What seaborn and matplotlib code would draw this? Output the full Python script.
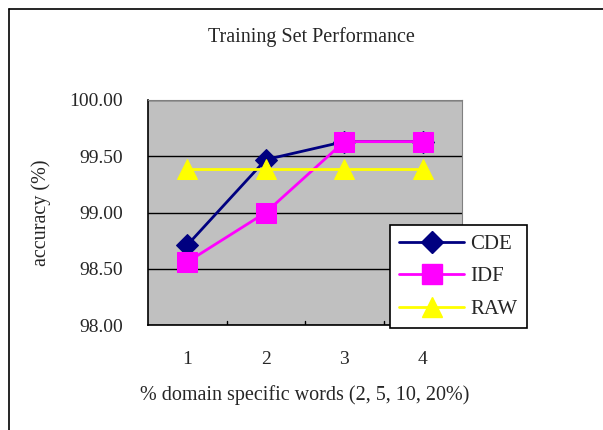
import pandas as pd
import seaborn as sns
from matplotlib import pyplot as plt
from matplotlib.lines import Line2D

# values
categories = [1, 2, 3, 4]
cde = [98.71, 99.47, 99.63, 99.63]
idf = [98.56, 99.00, 99.63, 99.63]
raw = [99.39, 99.39, 99.39, 99.39]
series_names = ["CDE", "IDF", "RAW"]
y_ticks = [98.0, 98.5, 99.0, 99.5, 100.0]

df = pd.DataFrame({
    "x": categories * 3,
    "accuracy": cde + idf + raw,
    "series": [s for s in series_names for _ in categories],
})

sns.set_style("white")
plt.rcParams["font.family"] = ["Liberation Serif", "DejaVu Serif"]

colors = {"CDE": "#000080", "IDF": "#FF00FF", "RAW": "#FFFF00"}
markers = {"CDE": "D", "IDF": "s", "RAW": "^"}
sizes = {"CDE": 11, "IDF": 14, "RAW": 14}

fig = plt.figure(figsize=(6.03, 4.30), dpi=100)
ax = fig.add_axes([148 / 603, 105 / 430, 314 / 603, 225 / 430])
ax.set_facecolor("#C0C0C0")

for name in series_names:
    sub = df[df["series"] == name]
    sns.lineplot(data=sub, x="x", y="accuracy", ax=ax, color=colors[name],
                 marker=markers[name], markersize=sizes[name],
                 markeredgecolor=colors[name], linewidth=2, label=name,
                 legend=False)

ax.set_xlim(0.5, 4.5)
ax.set_ylim(98.0, 100.0)
ax.set_xticks(categories)
ax.set_xticklabels([str(c) for c in categories])
ax.set_yticks(y_ticks)
ax.set_yticklabels([f"{v:.2f}" for v in y_ticks])
ax.yaxis.grid(True, color="black", linewidth=1)
ax.set_axisbelow(True)
ax.tick_params(axis="x", length=0, pad=19, labelsize=14)
ax.tick_params(axis="y", length=4, direction="out", pad=14, labelsize=14)
# category separators on the x axis
for xb in [1.5, 2.5, 3.5]:
    ax.plot([xb, xb], [98.0, 98.04], color="black", linewidth=1)

for side in ["left", "bottom"]:
    ax.spines[side].set_color("black")
    ax.spines[side].set_linewidth(1.2)
for side in ["top", "right"]:
    ax.spines[side].set_color("#808080")

ax.set_xlabel("% domain specific words (2, 5, 10, 20%)", fontsize=14.5,
              labelpad=12)
ax.set_ylabel("accuracy (%)", fontsize=14.5, labelpad=13)
fig.text(311 / 603, 1 - 37 / 430, "Training Set Performance", ha="center",
         va="center", fontsize=14.5)

handles = [Line2D([0], [0], color=colors[n], marker=markers[n],
                  markersize=sizes[n], markeredgecolor=colors[n], linewidth=2)
           for n in series_names]
leg = fig.legend(handles, series_names, loc="upper left",
                 bbox_to_anchor=(390 / 603, 1 - 225 / 430), frameon=True,
                 fancybox=False, fontsize=15, handlelength=3.1,
                 handletextpad=0.3, borderpad=0.45, borderaxespad=0,
                 labelspacing=0.62, framealpha=1, facecolor="white")
leg.get_frame().set_edgecolor("black")
leg.get_frame().set_linewidth(1.2)

# chart border (left and top edges visible)
fig.add_artist(Line2D([9 / 603, 9 / 603], [0, 1 - 9 / 430], color="black",
                      linewidth=1.2, transform=fig.transFigure))
fig.add_artist(Line2D([9 / 603, 1], [1 - 9 / 430, 1 - 9 / 430], color="black",
                      linewidth=1.2, transform=fig.transFigure))

fig.savefig("out.png", dpi=100)
